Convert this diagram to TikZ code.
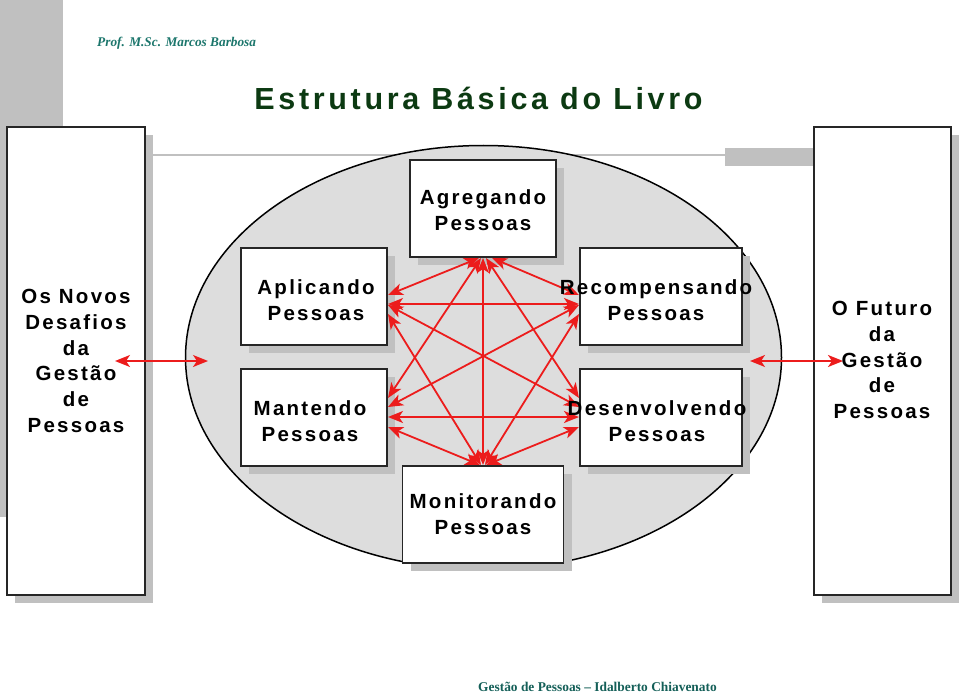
\documentclass[tikz,border=0pt]{standalone}
\usepackage{fontspec}
\setmainfont{Liberation Sans}
\newfontfamily\spc[LetterSpace=11]{Liberation Sans}
\newfontfamily\spctitle[LetterSpace=12]{Liberation Sans}
\newfontfamily\tms{Liberation Serif}
\usetikzlibrary{arrows.meta,shadows}
\definecolor{shgray}{RGB}{192,192,192}
\definecolor{ellgray}{RGB}{221,221,221}
\definecolor{linkred}{RGB}{236,28,28}
\definecolor{titlegreen}{RGB}{12,58,18}
\definecolor{teal1}{RGB}{28,118,108}
\definecolor{teal2}{RGB}{20,95,88}
\tikzset{
  box/.style={draw=black!85, line width=1.3pt, fill=white, inner sep=0pt,
    drop shadow={shadow xshift=8pt, shadow yshift=-8pt, fill=shgray, opacity=1}},
  lbl/.style={font=\spc\bfseries\fontsize{20.5}{25.8}\selectfont, align=center, inner sep=0pt},
  link/.style={draw=linkred, line width=1.8pt,
    {Stealth[length=15pt,width=12pt,inset=4pt]}-{Stealth[length=15pt,width=12pt,inset=4pt]}},
}
\begin{document}
\begin{tikzpicture}[x=1pt,y=-1pt]
\useasboundingbox (0,0) rectangle (960,695);
% decorations
\fill[shgray] (0,0) rectangle (63,517);
\draw[shgray, line width=2pt] (152,155) -- (725,155);
\fill[shgray] (725,148) rectangle (813,166);
% header / footer
\node[font=\tms\bfseries\itshape\fontsize{13.3}{16}\selectfont, text=teal1, anchor=west, inner sep=0pt] (prof) at (97,43) {Prof. M.Sc. Marcos Barbosa};
\node[font=\spctitle\bfseries\fontsize{30.5}{36}\selectfont, text=titlegreen, inner sep=0pt] (title) at (478.5,98) {Estrutura Básica do Livro};
\node[font=\tms\bfseries\fontsize{13.4}{16}\selectfont, text=teal2, inner sep=0pt] (foot) at (597.5,687) {Gestão de Pessoas – Idalberto Chiavenato};
% side boxes
\node[box, minimum width=138pt, minimum height=468pt] (L) at (76,361) {};
\node[box, minimum width=137pt, minimum height=468pt] (Rt) at (882.5,361) {};
% ellipse
\draw[fill=ellgray, line width=1.5pt] (483.5,357.5) ellipse [x radius=298, y radius=212];
% inner boxes
\node[box, minimum width=146pt, minimum height=97pt] (A) at (483,208.5) {};
\node[box, minimum width=146pt, minimum height=97pt] (Ap) at (314,296.5) {};
\node[box, minimum width=146pt, minimum height=97pt] (Ma) at (314,417.5) {};
\node[box, minimum width=162pt, minimum height=97pt] (R) at (661,296.5) {};
\node[box, minimum width=162pt, minimum height=97pt] (D) at (661,417.5) {};
\node[box, minimum width=161pt, minimum height=97pt] (Mo) at (483,514.5) {};
% arrow end points
\coordinate (a1) at (479,258); \coordinate (ap1) at (388,295);
\coordinate (a2) at (492,258); \coordinate (r1) at (579,295);
\coordinate (a3) at (481,258); \coordinate (ma1) at (388,398);
\coordinate (a4) at (486,258); \coordinate (d1) at (579,398);
\coordinate (a5) at (483,258); \coordinate (mo1) at (483,465);
\coordinate (ap2) at (388,304); \coordinate (r2) at (579,304);
\coordinate (ap3) at (388,305); \coordinate (d2) at (579,407);
\coordinate (ap4) at (388,314); \coordinate (mo2) at (481,465);
\coordinate (r3) at (579,305); \coordinate (ma2) at (388,407);
\coordinate (r4) at (579,314); \coordinate (mo3) at (485,465);
\coordinate (ma3) at (388,417); \coordinate (d3) at (579,417);
\coordinate (ma4) at (388,427); \coordinate (mo4) at (480,465);
\coordinate (d4) at (579,427); \coordinate (mo5) at (486,465);
\coordinate (l1) at (115,361); \coordinate (l2) at (208,361);
\coordinate (rr1) at (750,361); \coordinate (rr2) at (843,361);
% links
\draw[link] (a1) -- (ap1);
\draw[link] (a2) -- (r1);
\draw[link] (a3) -- (ma1);
\draw[link] (a4) -- (d1);
\draw[link] (a5) -- (mo1);
\draw[link] (ap2) -- (r2);
\draw[link] (ap3) -- (d2);
\draw[link] (ap4) -- (mo2);
\draw[link] (r3) -- (ma2);
\draw[link] (r4) -- (mo3);
\draw[link] (ma3) -- (d3);
\draw[link] (ma4) -- (mo4);
\draw[link] (d4) -- (mo5);
\draw[link] (l1) -- (l2);
\draw[link] (rr1) -- (rr2);
% labels
\node[lbl] (tA) at (483,210) {Agregando\\Pessoas};
\node[lbl] (tAp) at (316,300) {Aplicando\\Pessoas};
\node[lbl] (tMa) at (310,421) {Mantendo\\Pessoas};
\node[lbl] (tR) at (656,300) {Recompensando\\Pessoas};
\node[lbl] (tD) at (657,421) {Desenvolvendo\\Pessoas};
\node[lbl] (tMo) at (483,514) {Monitorando\\Pessoas};
\node[lbl] (tL) at (76,361) {Os Novos\\Desafios\\da\\Gestão\\de\\Pessoas};
\node[lbl] (tRt) at (882,360) {O Futuro\\da\\Gestão\\de\\Pessoas};
\end{tikzpicture}
\end{document}
